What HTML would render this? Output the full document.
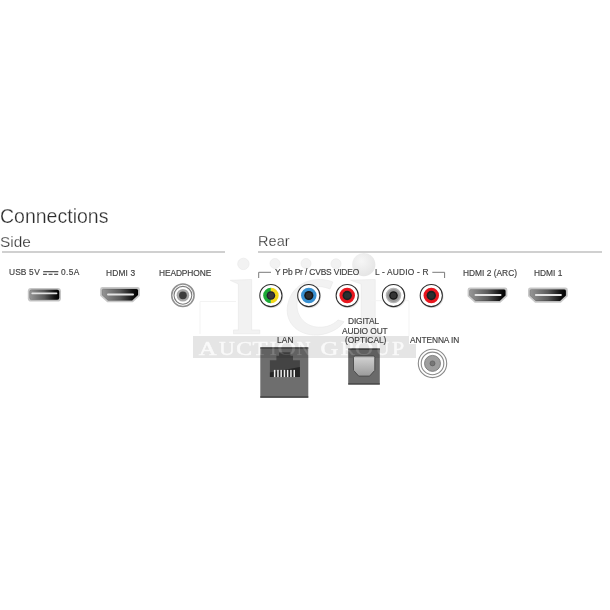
<!DOCTYPE html>
<html><head><meta charset="utf-8">
<style>
html,body{margin:0;padding:0;background:#fff;}
body{width:610px;height:610px;position:relative;overflow:hidden;font-family:"Liberation Sans",sans-serif;}
.t{position:absolute;white-space:nowrap;line-height:1;color:#444;will-change:transform;}
.h{color:#2c2c2c;-webkit-text-stroke:0.25px #fff;}
.lab{font-size:8.4px;color:#404040;-webkit-text-stroke:0.15px #404040;}
.ln{position:absolute;height:2px;background:#d0d0d0;}
svg{position:absolute;left:0;top:0;}
.wm{position:absolute;left:0;top:0;font-family:"Liberation Serif",serif;}
</style></head><body>

<!-- watermark letters (behind) -->
<svg width="610" height="610" viewBox="0 0 610 610">
  <defs>
    <radialGradient id="sph" cx="0.4" cy="0.35" r="0.7">
      <stop offset="0" stop-color="#f6f6f6"/>
      <stop offset="1" stop-color="#e4e4e4"/>
    </radialGradient>
  </defs>
  <g fill="#f2f2f2" stroke="#eaeaea" stroke-width="0.7">
    <circle cx="243.4" cy="263.9" r="5.7"/>
    <circle cx="275" cy="263.5" r="5"/>
    <circle cx="306" cy="263.5" r="5"/>
    <circle cx="336" cy="263.8" r="5"/>
    <!-- left i -->
    <path d="M230.2,280.3 L251.6,279.5 V330 H259.8 V333.8 H233.5 V330 H238.4 V284 Z"/>
    <!-- c -->
    <path d="M332.8,282 C318,276 296,280 289,300 C282,320 296,336 318,335 C330,334 340,328 344,321.7 L338,320 C332,326 324,328 316,327 C302,325 294,312 298,298 C302,286 318,284 330,289 Z"/>
    <!-- right i -->
    <path d="M350.6,280.2 L375.2,279.5 V332 H381 V336 H352 V332 H361.2 V284 Z"/>
  </g>
  <circle cx="363.8" cy="264.6" r="11.6" fill="url(#sph)"/>
  <g fill="none" stroke="#f3f3f3" stroke-width="1">
    <path d="M200,334 V301.5 H236"/>
    <path d="M371,300.7 H409 V336"/>
  </g>
</svg>

<div class="t h" style="left:0px;top:206.8px;font-size:19.5px;">Connections</div>
<div class="t h" style="left:0px;top:234px;font-size:15.4px;">Side</div>
<div class="t h" style="left:257.6px;top:234px;font-size:14.5px;letter-spacing:0.05px;">Rear</div>
<div class="ln" style="left:2px;top:250.6px;width:223px;"></div>
<div class="ln" style="left:258px;top:250.6px;width:344px;"></div>

<!-- labels -->
<div class="t lab" style="left:8.8px;top:268px;letter-spacing:0.1px;">USB</div>
<div class="t lab" style="left:29px;top:268px;letter-spacing:0.6px;">5V</div>
<div class="t lab" style="left:60.9px;top:268px;letter-spacing:0.4px;">0.5A</div>
<div class="t lab" style="left:106.3px;top:269px;letter-spacing:0.15px;">HDMI 3</div>
<div class="t lab" style="left:158.8px;top:269px;letter-spacing:-0.1px;">HEADPHONE</div>
<div class="t lab" style="left:275px;top:268px;letter-spacing:-0.14px;">Y Pb Pr / CVBS VIDEO</div>
<div class="t lab" style="left:374.5px;top:268px;letter-spacing:0.18px;">L - AUDIO - R</div>
<div class="t lab" style="left:462.6px;top:269px;">HDMI 2 (ARC)</div>
<div class="t lab" style="left:534px;top:269px;">HDMI 1</div>
<div class="t lab" style="left:348.4px;top:316.5px;letter-spacing:-0.15px;">DIGITAL</div>
<div class="t lab" style="left:342.2px;top:326.5px;letter-spacing:-0.1px;">AUDIO OUT</div>
<div class="t lab" style="left:344.5px;top:336px;">(OPTICAL)</div>
<div class="t lab" style="left:276.8px;top:336px;letter-spacing:0.1px;">LAN</div>
<div class="t lab" style="left:410px;top:336px;letter-spacing:-0.1px;">ANTENNA IN</div>

<svg width="610" height="610" viewBox="0 0 610 610">
  <defs>
    <linearGradient id="pg" x1="0" x2="1" y1="0" y2="0">
      <stop offset="0" stop-color="#969696"/>
      <stop offset="0.5" stop-color="#5a5a5a"/>
      <stop offset="0.85" stop-color="#111"/>
      <stop offset="1" stop-color="#000"/>
    </linearGradient>
    <linearGradient id="og" x1="0" x2="0" y1="0" y2="1">
      <stop offset="0" stop-color="#d4d4d4"/>
      <stop offset="1" stop-color="#9a9a9a"/>
    </linearGradient>
    <radialGradient id="gg">
      <stop offset="0.5" stop-color="#7e7e7e"/>
      <stop offset="0.75" stop-color="#9a9a9a"/>
      <stop offset="1" stop-color="#c2c2c2"/>
    </radialGradient>
    <g id="rca">
      <circle cx="0.6" cy="0.9" r="11.7" fill="rgba(0,0,0,0.12)"/>
      <circle r="11.1" fill="#fff" stroke="#2e2e2e" stroke-width="1.05"/>
    </g>
    <g id="hdmi">
      <path d="M2.4,0 H37.4 Q39.8,0 39.8,2.4 V8.7 L32.8,15.3 H7.1 L0,8.7 V2.4 Q0,0 2.4,0 Z" fill="#c8c8c8"/>
      <path d="M3.4,1.9 H36.4 Q37.9,1.9 37.9,3.4 V7.9 L32,13.4 H7.9 L1.9,7.9 V3.4 Q1.9,1.9 3.4,1.9 Z" fill="url(#pg)" stroke="rgba(0,0,0,0.3)" stroke-width="0.5"/>
      <rect x="6.9" y="6.4" width="27" height="2.1" rx="1" fill="#e4e4e4"/>
    </g>
  </defs>
  <!-- DC symbol -->
  <rect x="43.2" y="271" width="15.2" height="1.3" fill="#5a5a5a"/>
  <rect x="43" y="273.7" width="3.9" height="1.3" fill="#5a5a5a"/>
  <rect x="48.6" y="273.7" width="3.9" height="1.3" fill="#5a5a5a"/>
  <rect x="54.2" y="273.7" width="3.9" height="1.3" fill="#5a5a5a"/>

  <!-- USB port -->
  <rect x="27.8" y="287.9" width="33.2" height="13.7" rx="3.4" fill="#c6c6c6"/>
  <rect x="29.6" y="289.7" width="29.6" height="10.1" rx="2" fill="url(#pg)" stroke="rgba(0,0,0,0.3)" stroke-width="0.5"/>
  <rect x="31.4" y="292.6" width="26" height="1.7" rx="0.8" fill="#e2e2e2"/>

  <use href="#hdmi" x="100.1" y="287"/>
  <use href="#hdmi" x="467.6" y="287.5"/>
  <use href="#hdmi" x="528" y="287.5"/>

  <!-- Headphone -->
  <g transform="translate(182.9,295.3)">
    <circle r="11.2" fill="#fff" stroke="#909090" stroke-width="1.5"/>
    <circle r="8.9" fill="#fff" stroke="#7c7c7c" stroke-width="1.1"/>
    <circle r="6.3" fill="#a8a8a8"/>
    <circle r="3.9" fill="#3e3e3e"/>
  </g>

  <!-- RCA jacks -->
  <g transform="translate(270.9,295.5)">
    <use href="#rca"/>
    <path d="M0,-7.75 A7.75,7.75 0 0 0 0,7.75 Z" fill="#1caa36"/>
    <path d="M0,-7.75 A7.75,7.75 0 0 1 0,7.75 Z" fill="#f2d818"/>
    <circle r="4.3" fill="#1c1c30"/>
    <circle r="3.1" fill="#3a3a3a"/>
  </g>
  <g transform="translate(308.8,295.5)">
    <use href="#rca"/>
    <circle r="7.75" fill="#3890d0"/>
    <circle r="4.6" fill="#151515"/>
    <circle r="3.1" fill="#2e2e2e"/>
  </g>
  <g transform="translate(347.2,295.5)">
    <use href="#rca"/>
    <circle r="7.75" fill="#e8161e"/>
    <circle r="4.7" fill="#1b2020"/>
    <circle r="3.1" fill="#2a3030"/>
  </g>
  <g transform="translate(393.5,295.5)">
    <use href="#rca"/>
    <circle r="7.75" fill="#b4b4b4"/>
    <circle r="6.4" fill="#979797"/>
    <circle r="4.3" fill="#141414"/>
    <circle r="3" fill="#353535"/>
  </g>
  <g transform="translate(431.3,295.5)">
    <use href="#rca"/>
    <circle r="7.75" fill="#e8161e"/>
    <circle r="4.7" fill="#1b2020"/>
    <circle r="3.1" fill="#2a3030"/>
  </g>

  <!-- brackets -->
  <path d="M258.7,278 V272.3 H271" fill="none" stroke="#7a7a7a" stroke-width="1"/>
  <path d="M432.3,272.3 H444.6 V278" fill="none" stroke="#7a7a7a" stroke-width="1"/>

  <!-- LAN -->
  <rect x="260.3" y="347.3" width="48" height="50.4" fill="#6e6e6e"/>
  <rect x="260.3" y="347.3" width="48" height="1.5" fill="#4a4a4a"/>
  <rect x="260.3" y="396.3" width="48" height="1.4" fill="#3e3e3e"/>
  <path d="M280,352.2 H289.5 Q290.5,352.2 290.5,353.2 V355.8 H293 V360.2 H299.9 V377.1 H269.9 V360.2 H276.4 V355.8 H279 V353.2 Q279,352.2 280,352.2 Z" fill="#444"/>
  <path d="M269.9,372.5 L299.9,367 V377.1 H269.9 Z" fill="#262626"/>
  <g fill="#eeeeee">
    <rect x="273.9" y="369.9" width="1.5" height="7.2"/>
    <rect x="277.2" y="369.9" width="1.5" height="7.2"/>
    <rect x="280.4" y="369.9" width="1.5" height="7.2"/>
    <rect x="283.7" y="369.9" width="1.5" height="7.2"/>
    <rect x="286.9" y="369.9" width="1.5" height="7.2"/>
    <rect x="290.2" y="369.9" width="1.5" height="7.2"/>
    <rect x="293.5" y="369.9" width="1.5" height="7.2"/>
  </g>

  <!-- Optical -->
  <rect x="348.2" y="348.5" width="31.6" height="36" fill="#6a6a6a"/>
  <rect x="348.2" y="348.5" width="31.6" height="1.2" fill="#3a3a3a"/>
  <rect x="348.2" y="383.4" width="31.6" height="1.1" fill="#3a3a3a"/>
  <path d="M355,356 H373.3 Q374.8,356 374.8,357.5 V370.3 L369.6,376.1 H358.7 L353.5,370.3 V357.5 Q353.5,356 355,356 Z" fill="url(#og)" stroke="#474747" stroke-width="0.9"/>

  <!-- Antenna -->
  <g transform="translate(432.5,363.4)">
    <circle r="14.2" fill="#fff" stroke="#8a8a8a" stroke-width="1.1"/>
    <circle r="11.3" fill="#fff" stroke="#8a8a8a" stroke-width="1.1"/>
    <circle r="8" fill="#9e9e9e" stroke="#707070" stroke-width="0.8"/>
    <circle r="2.5" fill="#777" stroke="#555" stroke-width="0.6"/>
  </g>
</svg>

<!-- watermark band (overlay) -->
<svg width="610" height="610" viewBox="0 0 610 610">
  <defs>
    <mask id="bandm" maskUnits="userSpaceOnUse" x="0" y="0" width="610" height="610">
      <rect x="0" y="0" width="610" height="610" fill="#fff"/>
      <g font-family="Liberation Serif" font-size="19" fill="#404040" stroke="#404040" stroke-width="0.5">
    <text transform="translate(198.64,354.6) scale(1.30,1)">A</text>
    <text transform="translate(219.04,354.6) scale(1.15,1)">U</text>
    <text transform="translate(236.18,354.6) scale(1.25,1)">C</text>
    <text transform="translate(252.60,354.6) scale(1.30,1)">T</text>
    <text transform="translate(269.87,354.6) scale(1.10,1)">I</text>
    <text transform="translate(277.43,354.6) scale(1.35,1)">O</text>
    <text transform="translate(296.85,354.6) scale(1.0,1)">N</text>
    <text transform="translate(320.61,354.6) scale(1.30,1)">G</text>
    <text transform="translate(340.73,354.6) scale(1.13,1)">R</text>
    <text transform="translate(354.82,354.6) scale(1.35,1)">O</text>
    <text transform="translate(375.40,354.6) scale(1.0,1)">U</text>
    <text transform="translate(392.01,354.6) scale(1.15,1)">P</text>
      </g>
    </mask>
  </defs>
  <path d="M193,336 H409 V344 H416 V358 H193 Z" fill="rgba(0,0,0,0.1)" mask="url(#bandm)"/>
  <g font-family="Liberation Serif" font-size="19" fill="rgba(255,255,255,0.12)">
    <text transform="translate(198.64,354.6) scale(1.30,1)">A</text>
    <text transform="translate(219.04,354.6) scale(1.15,1)">U</text>
    <text transform="translate(236.18,354.6) scale(1.25,1)">C</text>
    <text transform="translate(252.60,354.6) scale(1.30,1)">T</text>
    <text transform="translate(269.87,354.6) scale(1.10,1)">I</text>
    <text transform="translate(277.43,354.6) scale(1.35,1)">O</text>
    <text transform="translate(296.85,354.6) scale(1.0,1)">N</text>
    <text transform="translate(320.61,354.6) scale(1.30,1)">G</text>
    <text transform="translate(340.73,354.6) scale(1.13,1)">R</text>
    <text transform="translate(354.82,354.6) scale(1.35,1)">O</text>
    <text transform="translate(375.40,354.6) scale(1.0,1)">U</text>
    <text transform="translate(392.01,354.6) scale(1.15,1)">P</text>
  </g>
</svg>
</body></html>
